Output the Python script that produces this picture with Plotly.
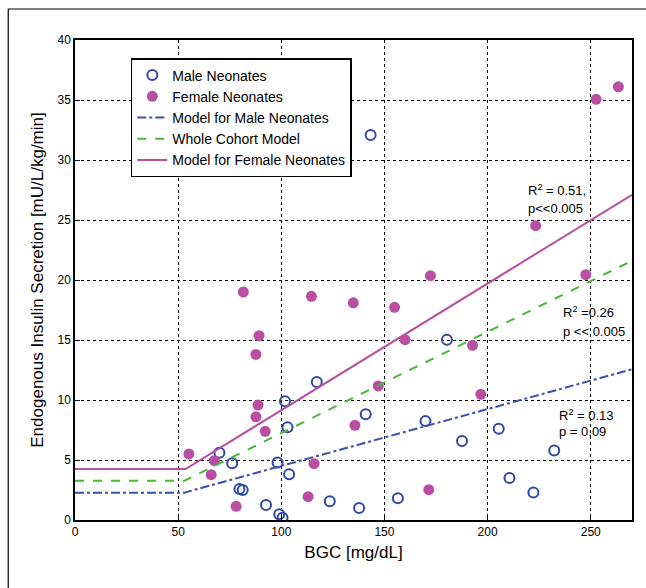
import plotly.graph_objects as go

# Data
male_bgc = [70.0, 76.2, 79.7, 81.3, 92.6, 180.3, 117.2, 101.8, 140.9, 103.0, 169.9, 187.6,
            205.4, 98.2, 103.8, 123.5, 137.7, 156.5, 99.0, 100.6, 143.3, 210.6, 222.2, 232.3]
male_ins = [5.6, 4.72, 2.58, 2.5, 1.25, 15.03, 11.5, 9.89, 8.81, 7.72, 8.25, 6.58,
            7.6, 4.8, 3.81, 1.56, 1.0, 1.81, 0.47, 0.19, 32.08, 3.5, 2.3, 5.8]

female_bgc = [81.6, 89.2, 87.7, 88.7, 87.7, 92.2, 55.2, 67.5, 66.0, 78.1, 172.3, 114.6, 134.9,
              154.9, 160.0, 192.7, 147.0, 196.7, 135.7, 115.9, 113.0, 171.5, 223.3, 247.6,
              252.6, 263.4]
female_ins = [19.0, 15.36, 13.8, 9.58, 8.6, 7.39, 5.5, 4.94, 3.78, 1.14, 20.36, 18.64, 18.1,
              17.72, 15.03, 14.56, 11.17, 10.47, 7.89, 4.69, 1.94, 2.53, 24.53, 20.44,
              35.06, 36.1]

male_model_x = [0, 53.0, 270]
male_model_y = [2.28, 2.28, 12.56]
cohort_model_x = [0, 53.1, 270]
cohort_model_y = [3.28, 3.28, 21.6]
female_model_x = [0, 53.6, 270]
female_model_y = [4.25, 4.25, 27.1]

x_ticks = [0, 50, 100, 150, 200, 250]
y_ticks = [0, 5, 10, 15, 20, 25, 30, 35, 40]

annotations_text = [
    (218.8, 27.5, "R<sup>2</sup> = 0.51,"),
    (218.8, 26.0, "p&lt;&lt;0.005"),
    (235.8, 17.35, "R<sup>2</sup> =0.26"),
    (235.8, 15.75, "p &lt;&lt; 0.005"),
    (233.4, 8.75, "R<sup>2</sup> = 0.13"),
    (233.4, 7.35, "p = 0.09"),
]

BLUE = "#2e4aa8"
MAG = "#b94fa2"
GREEN = "#44bb33"
FONT = "Liberation Sans, Arial, sans-serif"

fig = go.Figure()
fig.add_trace(go.Scatter(x=male_bgc, y=male_ins, mode="markers", name="Male Neonates",
                         marker=dict(symbol="circle-open", size=10, color=BLUE,
                                     line=dict(width=2, color=BLUE))))
fig.add_trace(go.Scatter(x=female_bgc, y=female_ins, mode="markers", name="Female Neonates",
                         marker=dict(symbol="circle", size=11, color=MAG)))
fig.add_trace(go.Scatter(x=male_model_x, y=male_model_y, mode="lines",
                         name="Model for Male Neonates",
                         line=dict(color="#3c50ae", width=2, dash="dashdot")))
fig.add_trace(go.Scatter(x=cohort_model_x, y=cohort_model_y, mode="lines",
                         name="Whole Cohort Model",
                         line=dict(color=GREEN, width=2, dash="dash")))
fig.add_trace(go.Scatter(x=female_model_x, y=female_model_y, mode="lines",
                         name="Model for Female Neonates",
                         line=dict(color=MAG, width=2)))

for ax, ay, t in annotations_text:
    fig.add_annotation(x=ax, y=ay, text=t, showarrow=False, xanchor="left",
                       yanchor="middle", font=dict(size=13, color="black", family=FONT))

# outer figure frame
fig.add_shape(type="rect", xref="paper", yref="paper",
              x0=(8 - 75) / 559, x1=(660 - 75) / 559,
              y0=(520 - 600) / 480, y1=(520 - 9) / 480,
              line=dict(color="black", width=1.2), fillcolor="rgba(0,0,0,0)", layer="below")

axis_common = dict(showgrid=True, gridcolor="black", griddash="dot", gridwidth=1,
                   showline=True, linecolor="black", linewidth=1.5, mirror=True,
                   ticks="inside", ticklen=5, tickcolor="black", zeroline=False,
                   tickfont=dict(size=12, color="black", family=FONT))

fig.update_layout(
    width=646, height=588,
    margin=dict(l=75, r=12, t=40, b=68),
    paper_bgcolor="white", plot_bgcolor="white",
    font=dict(family=FONT, color="black"),
    showlegend=True,
    legend=dict(x=(131 - 75) / 559, y=(520 - 58) / 480, xanchor="left", yanchor="top",
                bgcolor="white", bordercolor="black", borderwidth=1.5,
                font=dict(size=14, color="black", family=FONT), tracegroupgap=0),
    xaxis=dict(range=[0, 270], tickvals=x_ticks,
               title=dict(text="BGC [mg/dL]", font=dict(size=17), standoff=8),
               **axis_common),
    yaxis=dict(range=[0, 40], tickvals=y_ticks,
               title=dict(text="Endogenous Insulin Secretion [mU/L/kg/min]",
                          font=dict(size=17), standoff=10),
               **axis_common),
)

fig.write_html("out.html")
